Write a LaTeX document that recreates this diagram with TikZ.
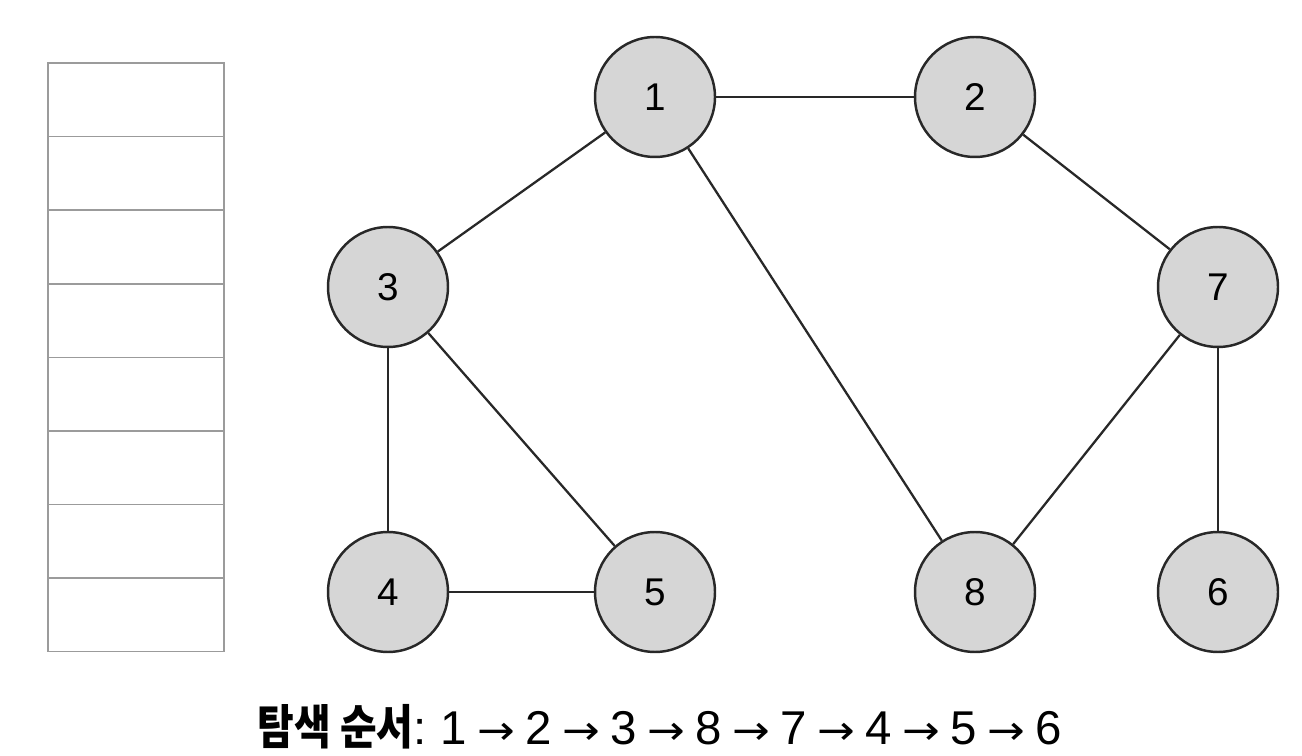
\documentclass[tikz,border=0pt]{standalone}
\usepackage{graphicx}
\usepackage{fontspec}
\setmainfont{Liberation Sans}
\newfontfamily\krfont{Noto Sans CJK KR}
\newfontfamily\arrowfont{DejaVu Sans}
\usetikzlibrary{positioning}
\definecolor{vxfill}{RGB}{214,214,214}
\definecolor{vxline}{RGB}{40,40,40}
\definecolor{stkline}{RGB}{155,155,155}
\newcommand{\nextstep}{\hspace{0.22em}{\arrowfont\scalebox{0.95}[0.85]{→}}\hspace{0.22em}}
\tikzset{
  vertex/.style={
    circle, draw=vxline, fill=vxfill, line width=1.4pt,
    minimum size=2.4cm, inner sep=0pt,
    font=\fontsize{22}{24}\selectfont
  },
  edge/.style={draw=vxline, line width=1.3pt},
  stackcell/.style={
    rectangle, draw=stkline, line width=0.8pt,
    minimum width=3.52cm, minimum height=1.472cm, inner sep=0pt
  },
  orderlabel/.style={font=\fontsize{27}{30}\selectfont, inner sep=0pt}
}
\begin{document}
\begin{tikzpicture}[x=0.02cm, y=-0.02cm]
  \useasboundingbox (0,0) rectangle (1302,756);

  % Stack
  \foreach \i in {1,...,8}
    \node[stackcell] (cell\i) at (136,{63+73.6*(\i-0.5)}) {};

  % Vertices
  \node[vertex] (v1) at (655,97)  {1};
  \node[vertex] (v2) at (975,97)  {2};
  \node[vertex] (v3) at (388,287) {3};
  \node[vertex] (v7) at (1218,287) {7};
  \node[vertex] (v4) at (388,592) {4};
  \node[vertex] (v5) at (655,592) {5};
  \node[vertex] (v8) at (975,592) {8};
  \node[vertex] (v6) at (1218,592) {6};

  % Edges
  \draw[edge] (v1) -- (v2);
  \draw[edge] (v1) -- (v3);
  \draw[edge] (v1) -- (v8);
  \draw[edge] (v2) -- (v7);
  \draw[edge] (v3) -- (v4);
  \draw[edge] (v3) -- (v5);
  \draw[edge] (v4) -- (v5);
  \draw[edge] (v7) -- (v8);
  \draw[edge] (v7) -- (v6);

  % Visiting order
  \node[orderlabel] (order) at (660,727)
    {{\krfont\bfseries\scalebox{0.84}[1]{탐색 순서}}:\hspace{0.3em}1\nextstep 2\nextstep 3\nextstep 8\nextstep 7\nextstep 4\nextstep 5\nextstep 6};
\end{tikzpicture}
\end{document}
